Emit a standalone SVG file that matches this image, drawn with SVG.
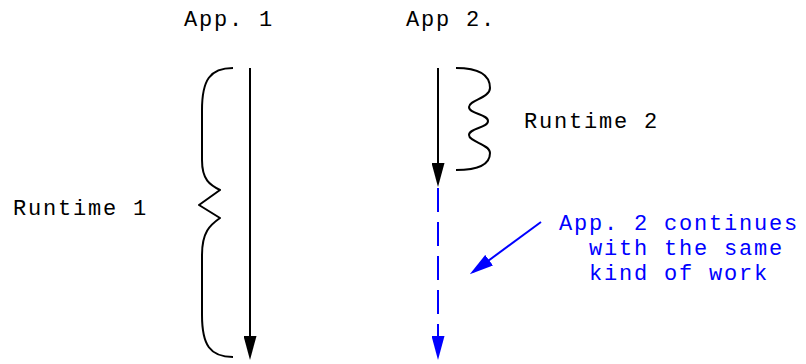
<svg xmlns="http://www.w3.org/2000/svg" width="806" height="364" viewBox="0 0 806 364">
<style>
text{font-family:"Liberation Mono","Courier New",monospace;font-size:22px;letter-spacing:1.8px;fill:#000}
.blue{fill:#0000ff}
.ln{fill:none;stroke:#000;stroke-width:2}
.bl{fill:none;stroke:#0000ff;stroke-width:2}
.brace{fill:none;stroke:#000;stroke-width:2;stroke-linejoin:round}
</style>
<defs>
<marker id="ahk" markerUnits="userSpaceOnUse" markerWidth="24" markerHeight="13" refX="20" refY="6.5" orient="auto" viewBox="0 0 24 13">
<path d="M0,0 L24,6.5 L0,13 z" fill="#000"/>
</marker>
<marker id="ahb" markerUnits="userSpaceOnUse" markerWidth="24" markerHeight="13" refX="20" refY="6.5" orient="auto" viewBox="0 0 24 13">
<path d="M0,0 L24,6.5 L0,13 z" fill="#0000ff"/>
</marker>
</defs>
<rect width="806" height="364" fill="#fff"/>
<g id="app1">
<text x="184" y="26">App. 1</text>
</g>
<g id="app2">
<text x="406" y="26">App 2.</text>
</g>
<g id="runtime1">
<path class="brace" d="M233,68 C210,68 202,80 202,110 L202,160 C202,180 210,185 220,190 L199,205 L220,218 C210,225 202,232 202,255 L202,315 C202,345 210,357 233,357"/>
<text x="13" y="215">Runtime 1</text>
</g>
<g id="runtime2">
<path class="brace" d="M456,68 C480,68 490,76 490,88 C490,98 469,100 469,107 C469,114 488,114 488,121 C488,128 469,128 469,135 C469,142 490,144 490,153 C490,163 480,170 456,170"/>
<text x="524" y="128">Runtime 2</text>
</g>
<g id="note">
<text class="blue" x="559" y="230">App. 2 continues<tspan x="589" y="255">with the same</tspan><tspan x="589" y="280">kind of work</tspan></text>
</g>
<g id="connectors">
<line class="ln" x1="250" y1="68" x2="250" y2="356" marker-end="url(#ahk)"/>
<line class="ln" x1="438" y1="68" x2="438" y2="183" marker-end="url(#ahk)"/>
<line class="bl" x1="438" y1="188" x2="438" y2="337" stroke-dasharray="24,10"/>
<line class="bl" x1="438" y1="330" x2="438" y2="356" marker-end="url(#ahb)"/>
<line class="bl" x1="541" y1="222" x2="473" y2="272" marker-end="url(#ahb)"/>
</g>
</svg>
